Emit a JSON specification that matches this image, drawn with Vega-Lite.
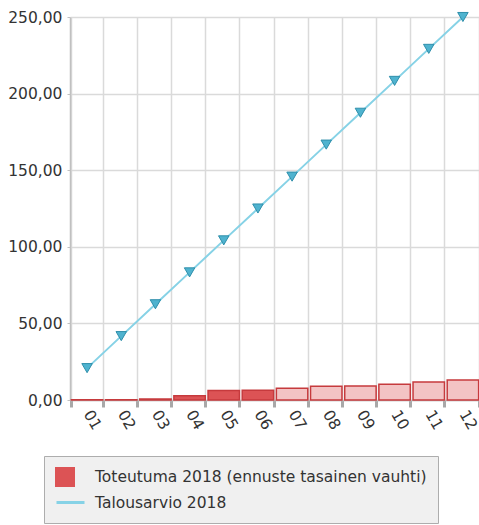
{
  "$schema": "https://vega.github.io/schema/vega-lite/v6.json",
  "width": 410,
  "height": 383,
  "autosize": {"type": "none"},
  "padding": {"left": 70, "top": 17, "right": 0, "bottom": 125},
  "background": "white",
  "config": {
    "font": "DejaVu Sans",
    "view": {"stroke": null},
    "axis": {"labelFont": "DejaVu Sans", "labelFontSize": 15.5, "labelColor": "#333333"},
    "legend": {"labelFont": "DejaVu Sans", "labelFontSize": 15.5, "labelColor": "#333333", "labelLimit": 0, "title": null}
  },
  "data": {
    "values": [
      {"month": "01", "actual": 0.1, "budget": 20.8, "forecast": false},
      {"month": "02", "actual": 0.2, "budget": 41.7, "forecast": false},
      {"month": "03", "actual": 0.7, "budget": 62.5, "forecast": false},
      {"month": "04", "actual": 2.7, "budget": 83.3, "forecast": false},
      {"month": "05", "actual": 6.2, "budget": 104.2, "forecast": false},
      {"month": "06", "actual": 6.3, "budget": 125.0, "forecast": false},
      {"month": "07", "actual": 7.6, "budget": 145.8, "forecast": true},
      {"month": "08", "actual": 9.0, "budget": 166.7, "forecast": true},
      {"month": "09", "actual": 9.1, "budget": 187.5, "forecast": true},
      {"month": "10", "actual": 10.3, "budget": 208.3, "forecast": true},
      {"month": "11", "actual": 11.7, "budget": 229.2, "forecast": true},
      {"month": "12", "actual": 13.0, "budget": 250.0, "forecast": true}
    ]
  },
  "transform": [
    {"calculate": "'Toteutuma 2018 (ennuste tasainen vauhti)'", "as": "barSeries"},
    {"calculate": "'Talousarvio 2018'", "as": "lineSeries"}
  ],
  "encoding": {
    "x": {
      "field": "month", "type": "ordinal", "title": null,
      "scale": {"paddingInner": 0.08, "paddingOuter": 0.04},
      "axis": {
        "labelAngle": 60, "labelAlign": "left", "labelBaseline": "middle",
        "labelPadding": 4, "tickBand": "extent",
        "grid": true, "gridColor": "#dadada", "gridWidth": 1.5,
        "domainColor": "#c0c0c0", "domainWidth": 1.5,
        "tickColor": "#a8a8a8", "tickWidth": 3, "tickSize": 7
      }
    }
  },
  "layer": [
    {
      "mark": {"type": "bar"},
      "encoding": {
        "y": {
          "field": "actual", "type": "quantitative", "title": null,
          "scale": {"domain": [0, 250], "nice": false},
          "axis": {
            "values": [0, 50, 100, 150, 200, 250],
            "labelExpr": "replace(format(datum.value, '.2f'), '.', ',')",
            "grid": true, "gridColor": "#dadada", "gridWidth": 1.5,
            "domainColor": "#c0c0c0", "domainWidth": 1.5,
            "tickColor": "#c0c0c0", "tickSize": 3, "labelPadding": 5
          }
        },
        "fill": {
          "condition": {"test": "datum.forecast", "value": "#f3c3c4"},
          "field": "barSeries", "type": "nominal",
          "scale": {
            "domain": ["Toteutuma 2018 (ennuste tasainen vauhti)", " "],
            "range": ["#dc5355", "#f0f0f0"]
          },
          "legend": {
            "orient": "none", "legendX": -26, "legendY": 439, "zindex": 0,
            "fillColor": "#f0f0f0", "strokeColor": "#adadad", "padding": 11,
            "symbolType": "square", "symbolSize": 400, "symbolStrokeWidth": 0,
            "symbolOpacity": 1,
            "rowPadding": 5, "labelOffset": 20
          }
        }
      }
    },
    {
      "mark": {"type": "bar", "fillOpacity": 0, "stroke": "#c63a3d", "strokeWidth": 1.5},
      "encoding": {
        "y": {"field": "actual", "type": "quantitative"}
      }
    },
    {
      "mark": {"type": "line", "strokeWidth": 2},
      "encoding": {
        "y": {"field": "budget", "type": "quantitative"},
        "stroke": {
          "field": "lineSeries", "type": "nominal",
          "scale": {"domain": ["Talousarvio 2018"], "range": ["#86d2e6"]},
          "legend": {
            "orient": "none", "legendX": -15, "legendY": 470, "zindex": 1,
            "padding": 0, "symbolType": "stroke", "symbolSize": 784,
            "symbolStrokeWidth": 3, "labelOffset": 9
          }
        }
      }
    },
    {
      "mark": {"type": "point", "shape": "triangle-down", "filled": true, "size": 110, "fill": "#4fb3cf", "stroke": "#2f8fab", "strokeWidth": 1, "opacity": 1},
      "encoding": {
        "y": {"field": "budget", "type": "quantitative"}
      }
    }
  ]
}
